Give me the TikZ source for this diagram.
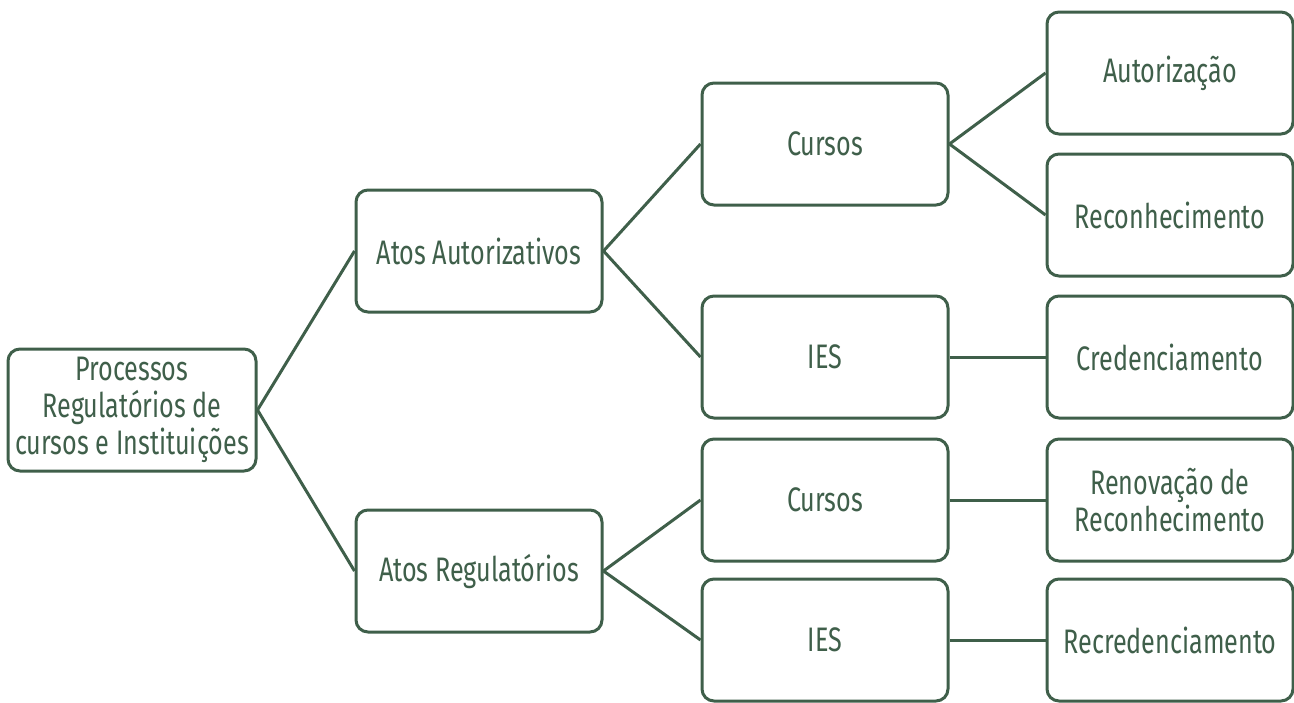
\documentclass[tikz,border=0pt]{standalone}
\usepackage{fontspec}
\setmainfont[FakeStretch=0.74]{Fira Sans}
\definecolor{dg}{HTML}{3F5F4A}
\begin{document}
\begin{tikzpicture}[x=1pt,y=-1pt,
  box/.style={draw=dg,line width=3pt,rounded corners=12pt,fill=white,minimum width=246pt,minimum height=122pt,inner sep=0pt,align=center,text=dg,font=\fontsize{34}{37}\selectfont},
  link/.style={draw=dg,line width=3pt}]
\useasboundingbox (0,0) rectangle (1294,702);
\node[box,minimum width=248pt] (root) at (132,410) {Processos\\Regulatórios de\\cursos e Instituições};
\node[box] (aa) at (479,251) {Atos Autorizativos};
\node[box] (ar) at (479,571) {Atos Regulatórios};
\node[box] (c1) at (825,144) {Cursos};
\node[box] (i1) at (825,357) {IES};
\node[box] (c2) at (825,500) {Cursos};
\node[box] (i2) at (825,640) {IES};
\node[box] (au) at (1170,73) {Autorização};
\node[box] (re) at (1170,215) {Reconhecimento};
\node[box] (cr) at (1170,357) {Credenciamento};
\node[box] (rr) at (1170,500) {Renovação de\\Reconhecimento};
\node[box] (rc) at (1170,640) {Recredenciamento};
\draw[link] (root.east) -- (aa.west);
\draw[link] (root.east) -- (ar.west);
\draw[link] (aa.east) -- (c1.west);
\draw[link] (aa.east) -- (i1.west);
\draw[link] (ar.east) -- (c2.west);
\draw[link] (ar.east) -- (i2.west);
\draw[link] (c1.east) -- (au.west);
\draw[link] (c1.east) -- (re.west);
\draw[link] (i1.east) -- (cr.west);
\draw[link] (c2.east) -- (rr.west);
\draw[link] (i2.east) -- (rc.west);
\end{tikzpicture}
\end{document}
